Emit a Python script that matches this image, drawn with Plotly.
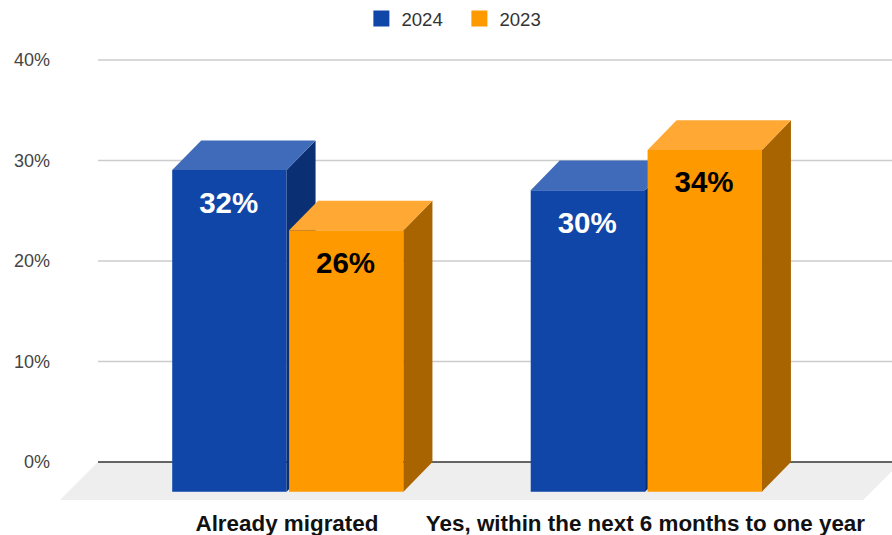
import plotly.graph_objects as go

# Survey results per answer group
categories = ["Already migrated", "Yes, within the next 6 months to one year"]
values_2024 = [32, 30]
values_2023 = [26, 34]
y_ticks = [0, 10, 20, 30, 40]

FONT = "Liberation Sans"
BLUE = {"front": "#1046A8", "top": "#3F6BBA", "side": "#0B2F73"}
ORANGE = {"front": "#FF9900", "top": "#FFA833", "side": "#A86400"}

# Axis scaling and the oblique depth of the 3D look, in axis units
BAR_W = 0.319
DEPTH_X = 29 / 358.5
DEPTH_Y = 2.95
FLOOR_X = 38 / 358.5
FLOOR_Y = 3.78
X_RANGE = [-0.636, 1.6848]
Y_RANGE = [-3.98, 40.995]
GRID_LEFT = -0.530
LABEL_DROP = 3.5


def add_series(fig, name, values, colors, offset, label_color, xa, ya):
    xs = list(range(len(values)))
    fig.add_trace(go.Bar(
        x=xs, y=values, base=-DEPTH_Y, width=BAR_W, offset=offset,
        marker=dict(color=colors["front"], line=dict(width=0)),
        name=name, showlegend=False, hoverinfo="skip", xaxis=xa, yaxis=ya,
    ))
    for x, v in zip(xs, values):
        left = x + offset
        right = left + BAR_W
        top = v - DEPTH_Y
        fig.add_trace(go.Scatter(
            x=[right, right + DEPTH_X, right + DEPTH_X, right, right],
            y=[top, v, 0, -DEPTH_Y, top],
            mode="none", fill="toself", fillcolor=colors["side"],
            showlegend=False, hoverinfo="skip", xaxis=xa, yaxis=ya,
        ))
        fig.add_trace(go.Scatter(
            x=[left, left + DEPTH_X, right + DEPTH_X, right, left],
            y=[top, v, v, top, top],
            mode="none", fill="toself", fillcolor=colors["top"],
            showlegend=False, hoverinfo="skip", xaxis=xa, yaxis=ya,
        ))
    fig.add_trace(go.Scatter(
        x=[x + offset + BAR_W / 2 - 0.002 for x in xs],
        y=[v - DEPTH_Y - LABEL_DROP for v in values],
        mode="text", text=[f"{v}%" for v in values],
        textposition="middle center",
        textfont=dict(family=FONT, size=29.5, color=label_color, weight="bold"),
        showlegend=False, hoverinfo="skip", xaxis=xa, yaxis=ya,
    ))
    # Legend entry with a large square swatch
    fig.add_trace(go.Scatter(
        x=[None], y=[None], mode="markers", name=name,
        marker=dict(symbol="square", size=18, color=colors["front"]),
        xaxis=xa, yaxis=ya,
    ))


fig = go.Figure()
add_series(fig, "2024", values_2024, BLUE, -0.323, "white", "x", "y")
add_series(fig, "2023", values_2023, ORANGE, 0.003, "black", "x2", "y2")

# Floor, gridlines and baseline sit behind the bars
FLOOR_RIGHT = X_RANGE[1] - 0.08
shapes = [dict(
    type="path", layer="below", xref="x", yref="y", line=dict(width=0),
    fillcolor="#EEEEEE",
    path=(f"M {GRID_LEFT} 0 L {FLOOR_RIGHT + FLOOR_X} 0 "
          f"L {FLOOR_RIGHT} {-FLOOR_Y} L {GRID_LEFT - FLOOR_X} {-FLOOR_Y} Z"),
)]
for t in y_ticks:
    shapes.append(dict(
        type="line", layer="below", xref="x", yref="y",
        x0=GRID_LEFT, x1=X_RANGE[1], y0=t, y1=t,
        line=dict(color="#333333" if t == 0 else "#CCCCCC", width=1.3),
    ))

fig.update_layout(
    width=892, height=535,
    margin=dict(l=60, r=0, t=50, b=33),
    paper_bgcolor="white", plot_bgcolor="rgba(0,0,0,0)",
    barmode="overlay",
    shapes=shapes,
    font=dict(family=FONT, color="#333333"),
    legend=dict(
        orientation="h", x=0.515, xanchor="center", xref="container",
        y=1.0, yanchor="top", yref="container",
        font=dict(size=18.6, color="#333333"),
        entrywidth=53, entrywidthmode="pixels",
        itemclick=False, itemdoubleclick=False,
    ),
    xaxis=dict(
        range=X_RANGE, tickmode="array", tickvals=[-0.003, 0.997],
        ticktext=[f"<b>{c}</b>" for c in categories],
        tickfont=dict(size=22.4, color="#111111", family=FONT),
        showgrid=False, zeroline=False, showline=False, ticks="",
        ticklabelstandoff=6,
    ),
    yaxis=dict(
        range=Y_RANGE, tickmode="array", tickvals=y_ticks,
        ticktext=[f"{t}%" for t in y_ticks],
        tickfont=dict(size=18, color="#444444", family=FONT),
        showgrid=False, zeroline=False, showline=False, ticks="",
        ticklabelstandoff=9,
    ),
    xaxis2=dict(overlaying="x", matches="x", visible=False, anchor="y2"),
    yaxis2=dict(overlaying="y", matches="y", visible=False, anchor="x2"),
)

fig.write_html("out.html", config={"displayModeBar": False})
